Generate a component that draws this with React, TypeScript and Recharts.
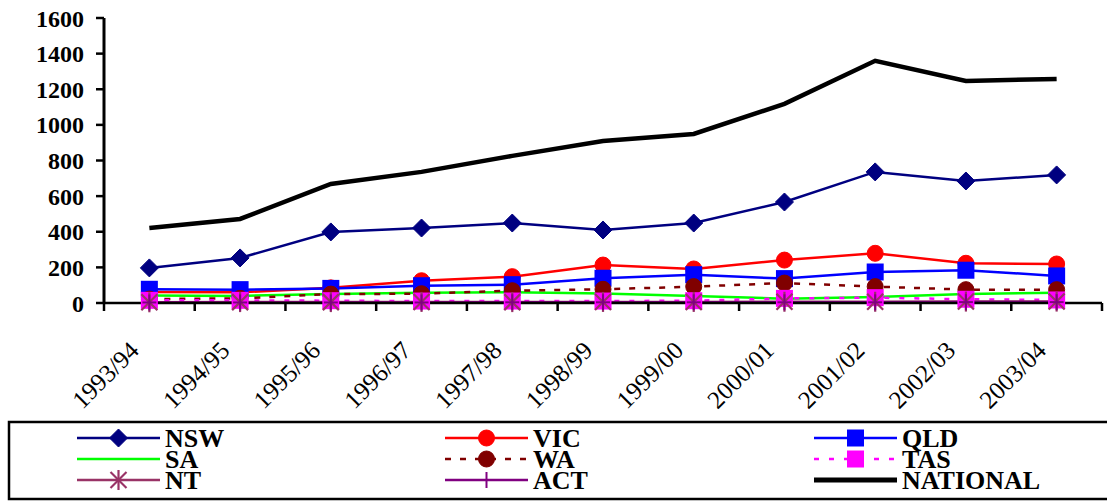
import React from 'react';
import { LineChart, Line, XAxis, YAxis } from 'recharts';

const categories = ['1993/94', '1994/95', '1995/96', '1996/97', '1997/98', '1998/99', '1999/00', '2000/01', '2001/02', '2002/03', '2003/04'];

const nsw = [197, 253, 399, 421, 449, 410, 449, 567, 736, 685, 719];
const vic = [62, 60, 85, 125, 148, 213, 191, 241, 279, 223, 219];
const qld = [77, 75, 82, 97, 103, 139, 159, 137, 174, 184, 152];
const sa = [42, 40, 50, 58, 60, 54, 39, 24, 34, 51, 58];
const wa = [22, 26, 50, 52, 69, 77, 92, 112, 92, 75, 75];
const tas = [15, 15, 13, 11, 11, 11, 13, 26, 30, 21, 17];
const nt = [4, 5, 5, 6, 5, 6, 6, 7, 7, 8, 8];
const act = [3, 3, 3, 3, 4, 4, 4, 4, 4, 5, 5];
const national = [421, 472, 668, 736, 826, 910, 949, 1118, 1360, 1247, 1258];

const yTicks = [0, 200, 400, 600, 800, 1000, 1200, 1400, 1600];

type Marker = 'diamond' | 'circle' | 'square' | 'asterisk' | 'plus' | 'none';

interface Series {
  key: string;
  values: number[];
  color: string;
  width: number;
  dash?: string;
  marker: Marker;
}

const series: Series[] = [
  { key: 'NSW', values: nsw, color: '#000080', width: 2.5, marker: 'diamond' },
  { key: 'VIC', values: vic, color: '#ff0000', width: 2.5, marker: 'circle' },
  { key: 'QLD', values: qld, color: '#0000ff', width: 2.5, marker: 'square' },
  { key: 'SA', values: sa, color: '#00ff00', width: 2.5, marker: 'none' },
  { key: 'WA', values: wa, color: '#800000', width: 2.5, dash: '6 9', marker: 'circle' },
  { key: 'TAS', values: tas, color: '#ff00ff', width: 2.5, dash: '5 10', marker: 'square' },
  { key: 'NT', values: nt, color: '#993366', width: 2.5, marker: 'asterisk' },
  { key: 'ACT', values: act, color: '#800080', width: 2.5, marker: 'plus' },
  { key: 'NATIONAL', values: national, color: '#000000', width: 4.5, marker: 'none' },
];

const data = categories.map((year, i) => {
  const row: Record<string, string | number> = { year };
  series.forEach((s) => { row[s.key] = s.values[i]; });
  return row;
});

const W = 1107;
const H = 501;
const LEFT = 104;
const RIGHT = 5;
const TOP = 18;
const BOTTOM = 118;
const XAXIS_H = 80;
const AXIS_Y = H - BOTTOM - XAXIS_H;
const plotW = W - LEFT - RIGHT;
const half = plotW / categories.length / 2;
const serif = "'Liberation Serif', 'Times New Roman', Times, 'DejaVu Serif', serif";

const renderMarker = (kind: Marker, cx: number, cy: number, color: string, key?: string) => {
  switch (kind) {
    case 'diamond':
      return <polygon key={key} points={`${cx},${cy - 9} ${cx + 9},${cy} ${cx},${cy + 9} ${cx - 9},${cy}`} fill={color} stroke={color} />;
    case 'circle':
      return <circle key={key} cx={cx} cy={cy} r={8} fill={color} stroke={color} />;
    case 'square':
      return <rect key={key} x={cx - 8.5} y={cy - 8.5} width={17} height={17} fill={color} />;
    case 'asterisk':
      return (
        <g key={key} stroke={color} strokeWidth={2.2}>
          <line x1={cx - 8} y1={cy - 8} x2={cx + 8} y2={cy + 8} />
          <line x1={cx - 8} y1={cy + 8} x2={cx + 8} y2={cy - 8} />
          <line x1={cx} y1={cy - 10} x2={cx} y2={cy + 10} />
        </g>
      );
    case 'plus':
      return (
        <g key={key} stroke={color} strokeWidth={2}>
          <line x1={cx - 7} y1={cy} x2={cx + 7} y2={cy} />
          <line x1={cx} y1={cy - 8} x2={cx} y2={cy + 8} />
        </g>
      );
    default:
      return <g key={key} />;
  }
};

const XTick = (props: any) => {
  const { x, payload, index } = props;
  return (
    <g>
      {index === 0 && <line x1={x - half} y1={AXIS_Y} x2={x - half} y2={AXIS_Y + 8} stroke="#000" strokeWidth={2.5} />}
      <line x1={x + half} y1={AXIS_Y} x2={x + half} y2={AXIS_Y + 8} stroke="#000" strokeWidth={2.5} />
      <text
        transform={`translate(${x - 9},${AXIS_Y + 49}) rotate(-45)`}
        textAnchor="end"
        fontSize={25}
        fontFamily={serif}
        fill="#000"
      >
        {payload.value}
      </text>
    </g>
  );
};

const LegendBox = () => {
  const cols = [77, 445, 814];
  const rows = [28, 49, 70];
  return (
    <svg width={W} height={91} style={{ position: 'absolute', left: 0, top: 410 }}>
      <rect x={9} y={12} width={W} height={77} fill="none" stroke="#000" strokeWidth={2.5} />
      {series.map((s, i) => {
        const cx = cols[i % 3];
        const cy = rows[Math.floor(i / 3)];
        return (
          <g key={s.key}>
            <line x1={cx} y1={cy} x2={cx + 83} y2={cy} stroke={s.color} strokeWidth={s.key === 'NATIONAL' ? 5 : 2.5} strokeDasharray={s.dash} />
            {renderMarker(s.marker, cx + 41.5, cy, s.color)}
            <text x={cx + 88} y={cy + 8.5} fontSize={26} fontWeight="bold" fontFamily={serif} fill="#000">
              {s.key}
            </text>
          </g>
        );
      })}
    </svg>
  );
};

export default function App() {
  return (
    <div style={{ position: 'absolute', left: 0, top: 0, width: W, height: H, background: '#fff' }}>
      <LineChart width={W} height={H} data={data} margin={{ top: TOP, right: RIGHT, left: 0, bottom: BOTTOM }}>
        <XAxis
          dataKey="year"
          interval={0}
          padding={{ left: half, right: half }}
          tickLine={false}
          tickSize={0}
          tickMargin={0}
          height={XAXIS_H}
          axisLine={{ stroke: '#000', strokeWidth: 2.5 }}
          tick={<XTick />}
        />
        <YAxis
          width={LEFT}
          domain={[0, 1600]}
          ticks={yTicks}
          interval={0}
          tickSize={8}
          tickMargin={12}
          axisLine={{ stroke: '#000', strokeWidth: 3 }}
          tickLine={{ stroke: '#000', strokeWidth: 2.5 }}
          tick={{ fill: '#000', fontSize: 24, fontWeight: 'bold', fontFamily: serif }}
        />
        {series.map((s) => (
          <Line
            key={s.key}
            dataKey={s.key}
            type="linear"
            stroke={s.color}
            strokeWidth={s.width}
            strokeDasharray={s.dash}
            isAnimationActive={false}
            activeDot={false}
            dot={(p: any) => renderMarker(s.marker, p.cx, p.cy, s.color, `${s.key}-${p.index}`)}
          />
        ))}
      </LineChart>
      <LegendBox />
    </div>
  );
}
